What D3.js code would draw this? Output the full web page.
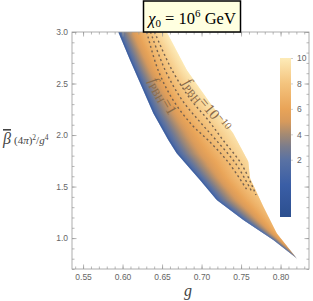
<!DOCTYPE html>
<html>
<head>
<meta charset="utf-8">
<title>PBH region</title>
<script src="https://cdn.jsdelivr.net/npm/d3@7"></script>
<style>
  body { margin: 0; background: #fff; }
  svg text { font-family: "Liberation Sans", "DejaVu Sans", sans-serif; }
  .tick text { fill: #666; font-size: 8.5px; }
  .serif { font-family: "Liberation Serif", "DejaVu Serif", serif; }
</style>
</head>
<body>
<script>
// axis ticks
var xTicks = [0.55, 0.60, 0.65, 0.70, 0.75, 0.80];
var yTicks = [1.0, 1.5, 2.0, 2.5, 3.0];
var cbTicks = [2, 4, 6, 8, 10];

// left (blue) edge of the allowed region: beta value and g
var leftBeta = [3.0, 2.729, 2.470, 2.212, 1.952, 1.823, 1.564, 1.370, 1.176, 0.982, 0.804];
var leftG    = [0.5946, 0.6094, 0.6242, 0.6389, 0.6579, 0.6685, 0.698, 0.7192, 0.7528, 0.7908, 0.8204];
// right (light) edge
var rightBeta = [3.0, 2.632, 2.312, 2.020, 1.742, 1.583, 1.305, 1.047, 0.804];
var rightG    = [0.6559, 0.6812, 0.7107, 0.7398, 0.7592, 0.7613, 0.7782, 0.7951, 0.8204];

// colour value on each edge
var valBeta  = [3.0, 2.5, 2.0, 1.7, 1.5, 1.3, 1.1, 0.95, 0.804];
var rightVal = [10, 9.8, 9.5, 9.0, 8.3, 7.5, 6.8, 6.0, 3];
var leftVal  = [-1, -1, -1, -1, -1, -1, -1, -1, -1];

// contours of f_PBH
var line1G    = [0.6306, 0.6449, 0.6638, 0.6879, 0.7081, 0.7335, 0.7575];
var line1Beta = [3.0, 2.632, 2.341, 2.098, 1.952, 1.739, 1.467];
var line2G    = [0.6354, 0.6538, 0.6752, 0.6980, 0.7183, 0.7436, 0.7638];
var line2Beta = [3.0, 2.632, 2.341, 2.127, 1.952, 1.719, 1.448];
var line3G    = [0.6404, 0.6625, 0.6866, 0.7081, 0.7271, 0.7512, 0.7689];
var line3Beta = [3.0, 2.632, 2.341, 2.147, 1.952, 1.710, 1.418];

// contour labels: g, beta, angle, exponent text
var labelG     = [0.6518, 0.7069];
var labelBeta  = [2.380, 2.292];
var labelAngle = [60, 51];
var labelText  = [["1"], ["10", "−10"]];

// colour scheme
var colorDomain = [-2.5, 0, 2, 3, 4, 5, 6, 8, 10];
var colorRange  = ["#2c4f8f", "#3a5ea6", "#5a72a3", "#7a7c8c", "#a58a72", "#d79a5c", "#e9a458", "#f4c47e", "#fdebb8"];

var W = 313, H = 301;
var pL = 72, pR = 309, pT = 32, pB = 269;

var svg = d3.select("body").append("svg")
  .attr("width", W).attr("height", H);
var defs = svg.append("defs");

var x = d3.scaleLinear().domain([0.536, 0.836]).range([pL, pR]);
var y = d3.scaleLinear().domain([0.7, 3.0]).range([pB, pT]);
var color = d3.scaleLinear().domain(colorDomain).range(colorRange).clamp(true);

var gLeft = d3.scaleLinear().domain(leftBeta).range(leftG);
var gRight = d3.scaleLinear().domain(rightBeta).range(rightG);
var vRight = d3.scaleLinear().domain(valBeta).range(rightVal);
var vLeft = d3.scaleLinear().domain(valBeta).range(leftVal);

// density region, drawn row by row
var region = svg.append("g");
var yTop = y(3.0), yTip = y(0.804);
var rows = d3.range(yTop, yTip, 1);
rows.forEach(function(py, i) {
  var b0 = y.invert(py), b1 = y.invert(Math.min(py + 1.6, yTip));
  var xl0 = x(gLeft(b0)), xr0 = x(gRight(b0));
  var xl1 = x(gLeft(b1)), xr1 = x(gRight(b1));
  var vl = vLeft(b0), vr = vRight(b0);
  var id = "row" + i;
  var grad = defs.append("linearGradient").attr("id", id)
    .attr("gradientUnits", "userSpaceOnUse")
    .attr("x1", xl0).attr("x2", xr0).attr("y1", 0).attr("y2", 0);
  d3.range(0, 1.0001, 0.05).forEach(function(s) {
    grad.append("stop").attr("offset", s)
      .attr("stop-color", color(vl + (vr - vl) * Math.pow(s, 0.5)));
  });
  region.append("path")
    .attr("d", "M" + xl0 + "," + py + "L" + xr0 + "," + py + "L" + xr1 + "," + (py + 1.6) + "L" + xl1 + "," + (py + 1.6) + "Z")
    .attr("fill", "url(#" + id + ")");
});

// dashed contour lines
var contours = [[line1G, line1Beta], [line2G, line2Beta], [line3G, line3Beta]];
var lineGen = d3.line().curve(d3.curveCatmullRom)
  .x(function(d) { return x(d[0]); }).y(function(d) { return y(d[1]); });
contours.forEach(function(c) {
  var pts = c[0].map(function(g, k) { return [g, c[1][k]]; });
  svg.append("path").attr("d", lineGen(pts))
    .attr("fill", "none").attr("stroke", "#76624f")
    .attr("stroke-width", 1.4).attr("stroke-dasharray", "2,2.8");
});

// contour labels
labelG.forEach(function(g, k) {
  var t = svg.append("text").attr("class", "serif")
    .attr("transform", "translate(" + x(g) + "," + y(labelBeta[k]) + ") rotate(" + labelAngle[k] + ")")
    .attr("text-anchor", "middle").attr("dy", "0.35em")
    .attr("fill", "#8a6a48").attr("font-size", 15);
  t.append("tspan").attr("font-style", "italic").text("f");
  t.append("tspan").attr("font-size", 10.5).attr("dy", 3).text("PBH");
  t.append("tspan").attr("dy", -3).text("=" + labelText[k][0]);
  if (labelText[k][1]) t.append("tspan").attr("font-size", 10.5).attr("dy", -5).text(labelText[k][1]);
});

// frame and ticks
function minors(domain, step) {
  return d3.range(Math.ceil(domain[0] / step) * step, domain[1] + 1e-9, step);
}
var xMinor = minors(x.domain(), 0.01);
var yMinor = minors(y.domain(), 0.1);

function styleAxis(g) {
  g.select(".domain").remove();
  g.selectAll(".tick line").attr("stroke", "#999").attr("stroke-width", 0.7);
}

svg.append("g").attr("transform", "translate(0," + pB + ")")
  .call(d3.axisBottom(x).tickValues(xMinor).tickSize(-2.5).tickFormat("")).call(styleAxis);
svg.append("g").attr("transform", "translate(0," + pB + ")")
  .call(d3.axisBottom(x).tickValues(xTicks).tickSize(-4.5).tickPadding(5).tickFormat(d3.format(".2f"))).call(styleAxis);
svg.append("g").attr("transform", "translate(0," + pT + ")")
  .call(d3.axisTop(x).tickValues(xMinor).tickSize(-2.5).tickFormat("")).call(styleAxis);
svg.append("g").attr("transform", "translate(0," + pT + ")")
  .call(d3.axisTop(x).tickValues(xTicks).tickSize(-4.5).tickFormat("")).call(styleAxis);

svg.append("g").attr("transform", "translate(" + pL + ",0)")
  .call(d3.axisLeft(y).tickValues(yMinor).tickSize(-2.5).tickFormat("")).call(styleAxis);
svg.append("g").attr("transform", "translate(" + pL + ",0)")
  .call(d3.axisLeft(y).tickValues(yTicks).tickSize(-4.5).tickPadding(4).tickFormat(d3.format(".1f"))).call(styleAxis);
svg.append("g").attr("transform", "translate(" + pR + ",0)")
  .call(d3.axisRight(y).tickValues(yMinor).tickSize(-2.5).tickFormat("")).call(styleAxis);
svg.append("g").attr("transform", "translate(" + pR + ",0)")
  .call(d3.axisRight(y).tickValues(yTicks).tickSize(-4.5).tickFormat("")).call(styleAxis);

svg.append("rect").attr("x", pL).attr("y", pT)
  .attr("width", pR - pL).attr("height", pB - pT)
  .attr("fill", "none").attr("stroke", "#999").attr("stroke-width", 0.8);

// colour bar
var cb = d3.scaleLinear().domain([-2.5, 10]).range([217, 58]);
var cbGrad = defs.append("linearGradient").attr("id", "cbgrad")
  .attr("x1", 0).attr("x2", 0).attr("y1", 1).attr("y2", 0);
colorDomain.forEach(function(v, k) {
  cbGrad.append("stop").attr("offset", (v + 2.5) / 12.5).attr("stop-color", colorRange[k]);
});
svg.append("rect").attr("x", 280).attr("y", cb(10)).attr("width", 11)
  .attr("height", cb(-2.5) - cb(10)).attr("fill", "url(#cbgrad)");
var cbAxis = svg.append("g").attr("transform", "translate(291,0)")
  .call(d3.axisRight(cb).tickValues(cbTicks).tickSize(2).tickPadding(4).tickFormat(d3.format("d")))
  .call(styleAxis);
cbAxis.selectAll(".tick line").attr("stroke", "#bbb");

// axis labels
svg.append("text").attr("class", "serif")
  .attr("x", 188).attr("y", 296).attr("text-anchor", "middle")
  .attr("font-size", 16).attr("font-style", "italic").attr("fill", "#444").text("g");

var yl = svg.append("text").attr("class", "serif")
  .attr("x", 3).attr("y", 144).attr("fill", "#444").attr("font-size", 11);
yl.append("tspan").attr("font-size", 16).attr("font-style", "italic")
  .style("text-decoration", "overline").text("β");
yl.append("tspan").attr("dx", 3).text("(4");
yl.append("tspan").attr("font-style", "italic").text("π");
yl.append("tspan").text(")");
yl.append("tspan").attr("font-size", 7.5).attr("dy", -4).text("2");
yl.append("tspan").attr("dy", 4).text("/");
yl.append("tspan").attr("font-style", "italic").text("g");
yl.append("tspan").attr("font-size", 7.5).attr("dy", -4).text("4");

// title box
svg.append("rect").attr("x", 143.5).attr("y", 1).attr("width", 97).attr("height", 31)
  .attr("fill", "#ffffe0").attr("stroke", "#000").attr("stroke-width", 1.5);
var tt = svg.append("text").attr("class", "serif")
  .attr("x", 192).attr("y", 24).attr("text-anchor", "middle")
  .attr("font-size", 16.5).attr("fill", "#000");
tt.append("tspan").attr("font-style", "italic").text("χ");
tt.append("tspan").attr("font-size", 11).attr("dy", 3).text("0");
tt.append("tspan").attr("dy", -3).text(" = 10");
tt.append("tspan").attr("font-size", 11).attr("dy", -7).text("6");
tt.append("tspan").attr("dy", 7).text(" GeV");
</script>
</body>
</html>
